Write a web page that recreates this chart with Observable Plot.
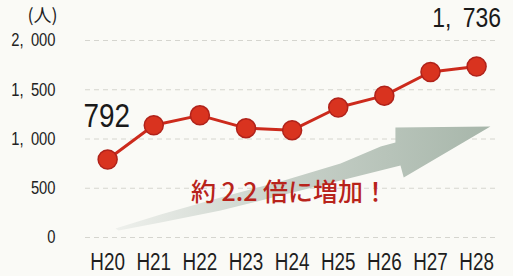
<!DOCTYPE html>
<html><head><meta charset="utf-8">
<script src="https://cdn.jsdelivr.net/npm/d3@7"></script>
<script src="https://cdn.jsdelivr.net/npm/@observablehq/plot@0.6"></script>
<style>
body{margin:0;background:#fafaf6;}
#chart svg{background:#fafaf6;}
</style>
</head><body><div id="chart"></div>
<script>
const years = ["H20","H21","H22","H23","H24","H25","H26","H27","H28"];
const people = [792, 1140, 1240, 1110, 1090, 1320, 1440, 1680, 1736];
const yTicks = [0, 500, 1000, 1500, 2000];
const unitLabel = "(人)";
const noteText = "約 2.2 倍に増加！";
// decorative growth arrow outline, in (year index, people) units
const arrowIdx = [0.17, 1.15, 2.45, 3.75, 5.05, 5.92, 6.24, 6.24, 8.30, 6.42, 6.35, 5.05, 3.75, 2.45, 1.15, 0.24];
const arrowVal = [ 91,  234,  406,  569,  752,  924,  964, 1117, 1127,  609,  731,  579,  426,  274,  152,   71];

const series = years.map((y, i) => ({i, year: y, value: people[i]}));
const arrow = arrowIdx.map((x, k) => ({x, y: arrowVal[k]}));
arrow.push(arrow[0]);

const sans = "'Liberation Sans', Arial, sans-serif";
const fmt = d => d3.format(",")(d).replace(",", ",\u2002");

const chart = Plot.plot({
  width: 513,
  height: 276,
  marginLeft: 85,
  marginRight: 18,
  marginTop: 40,
  marginBottom: 39,
  style: {background: "#fafaf6", color: "#222", fontFamily: sans},
  x: {domain: [-0.48, 8.41]},
  y: {domain: [0, 2000]},
  marks: [
    Plot.ruleY(yTicks, {stroke: "#c8c8c2", strokeWidth: 1, strokeDasharray: "5,4", strokeOpacity: 0.75}),
    Plot.line(arrow, {x: "x", y: "y", fill: "url(#arrowGrad)", stroke: "none", curve: "linear"}),
    Plot.axisY({ticks: yTicks, tickFormat: fmt, tickSize: 0, tickPadding: 30, fontSize: 18, label: null, fill: "#222"}),
    Plot.axisX({ticks: d3.range(years.length), tickFormat: i => years[i], tickSize: 0, tickPadding: 16, fontSize: 23, fontWeight: 500, label: null, fill: "#1e1e1e"}),
    Plot.text([unitLabel], {frameAnchor: "top-left", dx: -43, dy: -24, textAnchor: "middle", lineAnchor: "middle", fontSize: 18, fontFamily: "'Noto Sans CJK JP', sans-serif", fill: "#222"}),
    Plot.line(series, {x: "i", y: "value", stroke: "#cc2a1c", strokeWidth: 3}),
    Plot.dot(series, {x: "i", y: "value", r: 9.5, fill: "#d9331f", stroke: "#b0221a", strokeWidth: 1.5}),
    Plot.text([series[0]], {x: "i", y: "value", text: d => fmt(d.value), dy: -43, dx: -1, fontSize: 34, lineAnchor: "middle", fill: "#1a1a1a"}),
    Plot.text([series[series.length - 1]], {x: "i", y: "value", text: d => fmt(d.value), dy: -48, dx: -10, fontSize: 28, lineAnchor: "middle", fill: "#1a1a1a"}),
    Plot.text([noteText], {frameAnchor: "bottom-left", dx: 204, dy: -45, textAnchor: "middle", lineAnchor: "middle", fontSize: 25, fontWeight: 500, fontFamily: "'Noto Sans CJK JP', sans-serif", fill: "#b8231b"})
  ]
});

const ns = "http://www.w3.org/2000/svg";
const defs = document.createElementNS(ns, "defs");
const grad = document.createElementNS(ns, "linearGradient");
grad.setAttribute("id", "arrowGrad");
[["0%", "#eef0ec"], ["45%", "#c8d1c9"], ["100%", "#a7b6aa"]].forEach(([o, c]) => {
  const s = document.createElementNS(ns, "stop");
  s.setAttribute("offset", o);
  s.setAttribute("stop-color", c);
  grad.appendChild(s);
});
defs.appendChild(grad);
chart.insertBefore(defs, chart.firstChild);
document.getElementById("chart").appendChild(chart);

// condense the Latin/number labels horizontally (narrow typeface look)
chart.querySelectorAll("text").forEach(t => {
  if (!/^[\dH,\s\u2002]+$/.test(t.textContent)) return;
  const len = t.getComputedTextLength();
  if (len > 0) {
    t.setAttribute("textLength", (len * 0.82).toFixed(1));
    t.setAttribute("lengthAdjust", "spacingAndGlyphs");
  }
});
</script>
</body></html>
